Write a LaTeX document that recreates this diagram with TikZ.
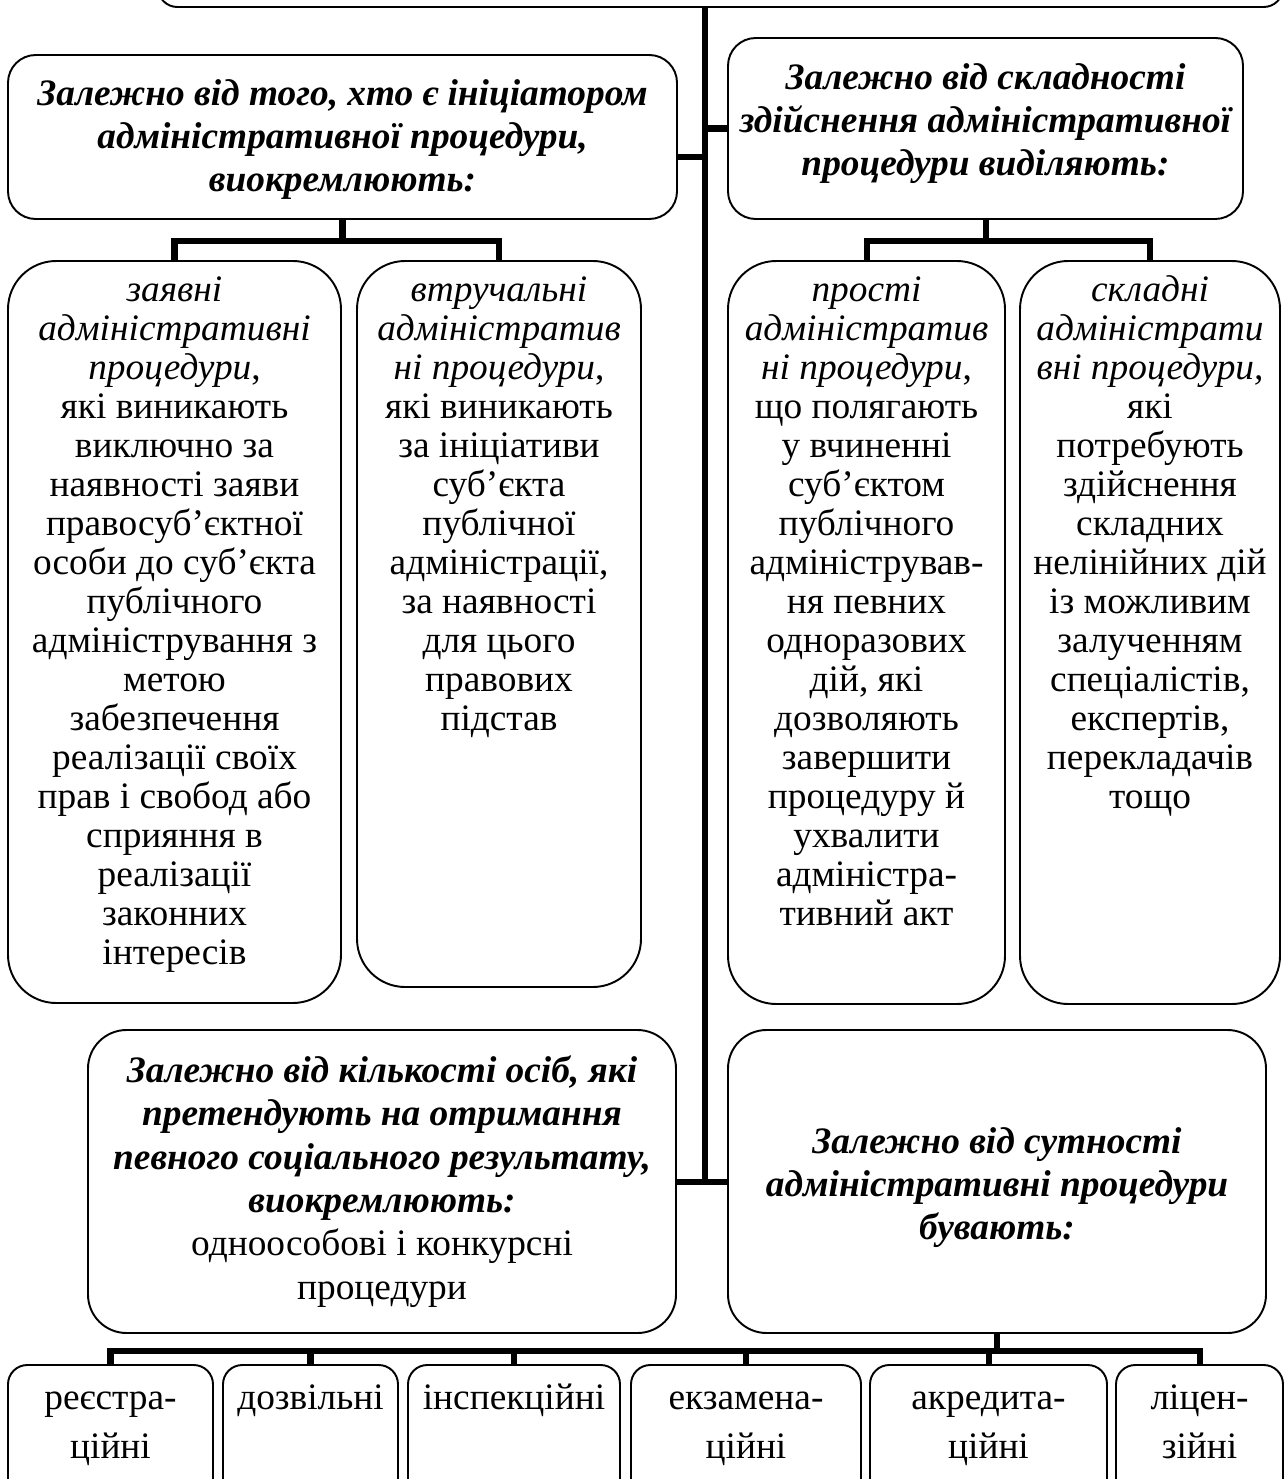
\documentclass[tikz,border=0pt]{standalone}
\usepackage{fontspec}
\setmainfont{Liberation Serif}
\usetikzlibrary{fit}
\tikzset{
  box/.style={draw, line width=0.8pt, inner sep=0pt, rounded corners=#1},
  box/.default=20pt,
  link/.style={line width=2.5pt},
  headtxt/.style={align=center, inner sep=0pt, font=\fontsize{15.5}{18}\selectfont\bfseries\itshape},
  bodytxt/.style={anchor=north, align=center, inner sep=0pt, font=\fontsize{15.5}{16.2}\selectfont},
  leaftxt/.style={anchor=north, align=center, inner sep=0pt, font=\fontsize{15.5}{20.7}\selectfont},
}
\begin{document}
\begin{tikzpicture}[x=0.415pt,y=-0.415pt]
  \clip (0,0) rectangle (1285,1479);
  % top box (cut off)
  \node[box=8pt, fit={(158,-80) (1283,7)}] (top) {};
  \coordinate (trunkend) at (705,1181);

  % first level
  \node[box=11.5pt, fit={(8,55) (677,219)}] (initiator) {};
  \node[headtxt] (initiatortxt) at ([yshift=-1pt]initiator.center)
    {Залежно від того, хто є ініціатором\\ адміністративної процедури,\\ виокремлюють:};
  \node[box=11.5pt, fit={(728,38) (1243,219)}] (complexity) {};
  \node[headtxt] (complexitytxt) at ([yshift=2pt]complexity.center)
    {Залежно від складності\\ здійснення адміністративної\\ процедури виділяють:};

  % children of the first level
  \node[box, fit={(8,261) (341,1003)}] (zayavni) {};
  \node[bodytxt] (zayavnitxt) at ([yshift=-5.5pt]zayavni.north)
    {\strut\textit{заявні}\\ \textit{адміністративні}\\ \textit{процедури},\\ які виникають\\ виключно за\\
     наявності заяви\\ правосуб’єктної\\ особи до суб’єкта\\ публічного\\ адміністрування з\\ метою\\
     забезпечення\\ реалізації своїх\\ прав і свобод або\\ сприяння в\\ реалізації\\ законних\\ інтересів};
  \node[box, fit={(357,261) (641,987)}] (vtruch) {};
  \node[bodytxt] (vtruchtxt) at ([yshift=-5.5pt]vtruch.north)
    {\strut\textit{втручальні}\\ \textit{адміністратив}\\ \textit{ні процедури},\\ які виникають\\ за ініціативи\\
     суб’єкта\\ публічної\\ адміністрації,\\ за наявності\\ для цього\\ правових\\ підстав};
  \node[box, fit={(728,261) (1005,1004)}] (prosti) {};
  \node[bodytxt] (prostitxt) at ([yshift=-5.5pt]prosti.north)
    {\strut\textit{прості}\\ \textit{адміністратив}\\ \textit{ні процедури},\\ що полягають\\ у вчиненні\\ суб’єктом\\
     публічного\\ адміністрував-\\ ня певних\\ одноразових\\ дій, які\\ дозволяють\\ завершити\\
     процедуру й\\ ухвалити\\ адміністра-\\ тивний акт};
  \node[box, fit={(1020,261) (1280,1004)}] (skladni) {};
  \node[bodytxt] (skladnitxt) at ([yshift=-5.5pt]skladni.north)
    {\strut\textit{складні}\\ \textit{адміністрати}\\ \textit{вні процедури,}\\ які\\ потребують\\ здійснення\\
     складних\\ нелінійних дій\\ із можливим\\ залученням\\ спеціалістів,\\ експертів,\\ перекладачів\\ тощо};

  % second level
  \node[box=16pt, fit={(88,1030) (676,1333)}] (quantity) {};
  \node[headtxt] (quantitytxt) at (quantity.center)
    {Залежно від кількості осіб, які\\ претендують на отримання\\ певного соціального результату,\\
     виокремлюють:\\ \normalfont одноособові і конкурсні\\ \normalfont процедури};
  \node[box=16pt, fit={(728,1030) (1266,1333)}] (essence) {};
  \node[headtxt] (essencetxt) at ([yshift=-2.5pt]essence.center)
    {Залежно від сутності\\ адміністративні процедури\\ бувають:};

  % leaves
  \node[box=8pt, fit={(8,1365) (213,1540)}] (reg) {};
  \node[box=8pt, fit={(223,1365) (398,1540)}] (perm) {};
  \node[box=8pt, fit={(408,1365) (620,1540)}] (insp) {};
  \node[box=8pt, fit={(631,1365) (861,1540)}] (exam) {};
  \node[box=8pt, fit={(870,1365) (1107,1540)}] (accr) {};
  \node[box=8pt, fit={(1116,1365) (1283,1540)}] (lic) {};
  \node[leaftxt] (regtxt) at ([yshift=-4pt]reg.north) {\strut реєстра-\\ ційні};
  \node[leaftxt] (permtxt) at ([yshift=-4pt]perm.north) {\strut дозвільні};
  \node[leaftxt] (insptxt) at ([yshift=-4pt]insp.north) {\strut інспекційні};
  \node[leaftxt] (examtxt) at ([yshift=-4pt]exam.north) {\strut екзамена-\\ ційні};
  \node[leaftxt] (accrtxt) at ([yshift=-4pt]accr.north) {\strut акредита-\\ ційні};
  \node[leaftxt] (lictxt) at ([yshift=-4pt]lic.north) {\strut ліцен-\\ зійні};

  % connectors
  \draw[link] (trunkend |- top.south) -- (trunkend);
  \draw[link] (initiator.east) ++(0,20) coordinate (s1) -- (s1 -| trunkend);
  \draw[link] (complexity.west) -- (complexity.west -| trunkend);
  \draw[link] (quantity.east) -- (essence.west);

  \draw[link] (initiator.south) -- ++(0,21) coordinate (b1);
  \draw[link] (zayavni.north) |- (b1) -| (vtruch.north);
  \draw[link] (complexity.south) -- ++(0,21) coordinate (b2);
  \draw[link] (prosti.north) |- (b2) -| (skladni.north);

  \draw[link] (essence.south) -- ++(0,17) coordinate (b3);
  \draw[link] (reg.north) |- (b3) -| (lic.north);
  \foreach \leaf in {perm,insp,exam,accr}
    \draw[link] (\leaf.north) -- (\leaf.north |- b3);
\end{tikzpicture}
\end{document}
